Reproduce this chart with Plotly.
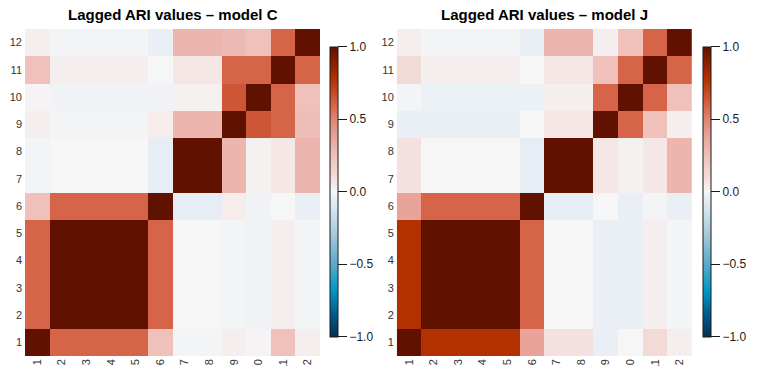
import plotly.graph_objects as go

# Lag labels (rows bottom-to-top, columns left-to-right)
lags = list(range(1, 13))
tick_labels = [str(v) for v in lags]

# Lagged ARI matrices, one row per lag (row 1 first)
ari_model_c = [
    [1.00, 0.60, 0.60, 0.60, 0.60, 0.25, -0.01, -0.01, 0.03, 0.01, 0.25, 0.03],
    [0.60, 1.00, 1.00, 1.00, 1.00, 0.60, 0.00, 0.00, -0.01, -0.02, 0.03, -0.01],
    [0.60, 1.00, 1.00, 1.00, 1.00, 0.60, 0.00, 0.00, -0.01, -0.02, 0.03, -0.01],
    [0.60, 1.00, 1.00, 1.00, 1.00, 0.60, 0.00, 0.00, -0.01, -0.02, 0.03, -0.01],
    [0.60, 1.00, 1.00, 1.00, 1.00, 0.60, 0.00, 0.00, -0.01, -0.02, 0.03, -0.01],
    [0.25, 0.60, 0.60, 0.60, 0.60, 1.00, -0.05, -0.05, 0.04, -0.02, 0.00, -0.04],
    [-0.01, 0.00, 0.00, 0.00, 0.00, -0.05, 1.00, 1.00, 0.30, 0.02, 0.06, 0.30],
    [-0.01, 0.00, 0.00, 0.00, 0.00, -0.05, 1.00, 1.00, 0.30, 0.02, 0.06, 0.30],
    [0.03, -0.01, -0.01, -0.01, -0.01, 0.04, 0.30, 0.30, 1.00, 0.65, 0.60, 0.26],
    [0.01, -0.02, -0.02, -0.02, -0.02, -0.02, 0.02, 0.02, 0.65, 1.00, 0.60, 0.25],
    [0.25, 0.03, 0.03, 0.03, 0.03, 0.00, 0.06, 0.06, 0.60, 0.60, 1.00, 0.60],
    [0.03, -0.01, -0.01, -0.01, -0.01, -0.04, 0.30, 0.30, 0.28, 0.25, 0.60, 1.00],
]

ari_model_j = [
    [1.00, 0.78, 0.78, 0.78, 0.78, 0.38, 0.09, 0.09, -0.04, 0.00, 0.12, 0.03],
    [0.78, 1.00, 1.00, 1.00, 1.00, 0.60, 0.00, 0.00, -0.04, -0.04, 0.03, -0.01],
    [0.78, 1.00, 1.00, 1.00, 1.00, 0.60, 0.00, 0.00, -0.04, -0.04, 0.03, -0.01],
    [0.78, 1.00, 1.00, 1.00, 1.00, 0.60, 0.00, 0.00, -0.04, -0.04, 0.03, -0.01],
    [0.78, 1.00, 1.00, 1.00, 1.00, 0.60, 0.00, 0.00, -0.04, -0.04, 0.03, -0.01],
    [0.38, 0.60, 0.60, 0.60, 0.60, 1.00, -0.05, -0.05, 0.00, -0.04, -0.01, -0.04],
    [0.09, 0.00, 0.00, 0.00, 0.00, -0.05, 1.00, 1.00, 0.06, 0.02, 0.06, 0.30],
    [0.09, 0.00, 0.00, 0.00, 0.00, -0.05, 1.00, 1.00, 0.06, 0.02, 0.06, 0.30],
    [-0.04, -0.04, -0.04, -0.04, -0.04, 0.00, 0.06, 0.06, 1.00, 0.60, 0.25, 0.03],
    [-0.01, -0.03, -0.03, -0.03, -0.03, -0.03, 0.03, 0.03, 0.60, 1.00, 0.60, 0.25],
    [0.12, 0.03, 0.03, 0.03, 0.03, 0.00, 0.06, 0.06, 0.25, 0.60, 1.00, 0.60],
    [0.03, -0.01, -0.01, -0.01, -0.01, -0.04, 0.30, 0.30, 0.03, 0.25, 0.60, 1.00],
]

titles = ["Lagged ARI values \u2013 model C", "Lagged ARI values \u2013 model J"]
cbar_ticks = [-1.0, -0.5, 0.0, 0.5, 1.0]

# Diverging blue-white-red scale on [-1, 1]
scale_points = [
    (-1.00, "#03304f"),
    (-0.84, "#005d8a"),
    (-0.68, "#0097c6"),
    (-0.50, "#5aa9c9"),
    (-0.30, "#a2c9dc"),
    (-0.12, "#d6e4ee"),
    (-0.05, "#e6edf4"),
    (0.00, "#f6f6f7"),
    (0.03, "#f5eeee"),
    (0.10, "#f3dedc"),
    (0.25, "#efc1ba"),
    (0.38, "#e8a49a"),
    (0.50, "#df8575"),
    (0.60, "#d66449"),
    (0.78, "#b33000"),
    (1.00, "#611100"),
]
colorscale = [[(v + 1) / 2, c] for v, c in scale_points]

W, H = 757, 366
ml, mr, mt, mb = 25, 61, 29, 10
pw = W - ml - mr
ph = H - mt - mb

def px_x(x):
    return (x - ml) / pw

def px_y(y):
    return (H - mb - y) / ph

domains = [[px_x(25), px_x(322)], [px_x(399), px_x(696)]]
cbar_left = [px_x(332), px_x(707)]

fig = go.Figure()
for i, (mat, title) in enumerate(zip([ari_model_c, ari_model_j], titles)):
    ax = "" if i == 0 else str(i + 1)
    fig.add_trace(go.Heatmap(
        z=mat, x=lags, y=lags,
        xaxis="x" + ax, yaxis="y" + ax,
        zmin=-1, zmax=1, colorscale=colorscale,
        xgap=0, ygap=0,
        colorbar=dict(
            x=cbar_left[i], xanchor="left", xpad=0,
            y=px_y(191.7), yanchor="middle", ypad=0,
            len=290, lenmode="pixels",
            thickness=8, thicknessmode="pixels",
            outlinewidth=1, outlinecolor="#1a1a1a",
            tickvals=cbar_ticks, tickformat=".1f",
            ticks="outside", ticklen=9, tickwidth=1, tickcolor="#1a1a1a",
            tickfont=dict(family="Liberation Sans, Arial", size=12, color="#1a1a1a"),
        ),
        hovertemplate="x=%{x}<br>y=%{y}<br>ARI=%{z:.2f}<extra></extra>",
    ))
    fig.add_annotation(
        text="<b>" + title + "</b>",
        xref="paper", yref="paper",
        x=sum(domains[i]) / 2, y=px_y(14),
        xanchor="center", yanchor="middle", showarrow=False,
        font=dict(family="Liberation Sans, Arial", size=15, color="#000000"),
    )

axis_common = dict(
    tickvals=lags, ticktext=tick_labels, showgrid=False, zeroline=False,
    showline=False, ticks="", automargin=False,
    tickfont=dict(family="Liberation Sans, Arial", size=11, color="#333333"),
)

fig.update_layout(
    width=W, height=H,
    margin=dict(l=ml, r=mr, t=mt, b=mb),
    paper_bgcolor="white", plot_bgcolor="white",
    xaxis=dict(domain=domains[0], range=[0.5, 12.5], tickangle=-90, anchor="y", **axis_common),
    yaxis=dict(domain=[0, 1], range=[0.5, 12.5], anchor="x", ticklabelstandoff=2, **axis_common),
    xaxis2=dict(domain=domains[1], range=[0.5, 12.5], tickangle=-90, anchor="y2", **axis_common),
    yaxis2=dict(domain=[0, 1], range=[0.5, 12.5], anchor="x2", ticklabelstandoff=2, **axis_common),
)

fig.write_html("out.html")
